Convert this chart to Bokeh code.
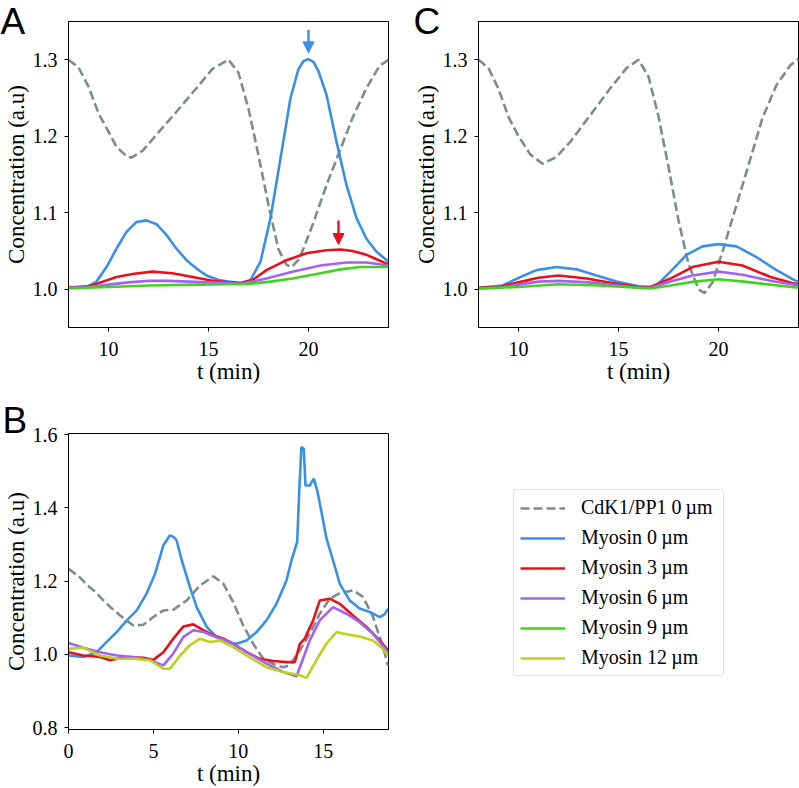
from bokeh.plotting import figure
from bokeh.layouts import column, row
from bokeh.models import (FixedTicker, PrintfTickFormatter, Range1d, Arrow,
                          NormalHead, Legend, LegendItem, ColumnDataSource)
from bokeh.embed import file_html
from bokeh.resources import INLINE

SERIF = "Liberation Serif"
SANS = "Liberation Sans"

C_GRAY = "#7f8c8d"
C_BLUE = "#3a8fe8"
C_RED = "#e8111a"
C_PURPLE = "#a264f0"
C_GREEN = "#40d420"
C_YELLOW = "#bcd21a"
LW = 2.6
DASH = "9 4"

# ---------------- Panel A (model, x = t in min) ----------------
a_t_gray = [8.0, 8.5, 9.0, 9.5, 10.0, 10.4, 10.9, 11.15, 11.7, 12.4, 13.4, 14.4, 15.2, 16.0, 16.5,
            17.0, 17.5, 18.0, 18.5, 18.9, 19.15, 19.55, 20.2, 20.9, 21.55, 22.2, 22.9, 23.55, 24.0]
a_gray = [1.300, 1.290, 1.265, 1.230, 1.206, 1.186, 1.174, 1.172, 1.181, 1.202, 1.232, 1.263, 1.288,
          1.300, 1.283, 1.236, 1.175, 1.110, 1.052, 1.032, 1.029, 1.040, 1.084, 1.136, 1.180, 1.224,
          1.263, 1.292, 1.300]

a_t_blue = [8.0, 8.5, 9.0, 9.4, 9.9, 10.4, 10.9, 11.4, 11.9, 12.4, 12.9, 13.4, 13.9, 14.4, 14.9,
            15.5, 16.0, 16.6, 17.1, 17.6, 18.1, 18.6, 19.1, 19.5, 19.75, 20.0, 20.25, 20.5, 20.9,
            21.4, 21.9, 22.4, 22.9, 23.4, 24.0]
a_blue = [1.003, 1.003, 1.004, 1.010, 1.029, 1.053, 1.075, 1.088, 1.090, 1.085, 1.071, 1.053, 1.038,
          1.027, 1.018, 1.012, 1.010, 1.008, 1.012, 1.036, 1.093, 1.171, 1.250, 1.288, 1.298, 1.301,
          1.297, 1.285, 1.254, 1.193, 1.136, 1.093, 1.066, 1.049, 1.036]

a_t_red = [8.0, 9.0, 9.4, 10.4, 11.2, 12.2, 13.2, 14.2, 15.2, 16.0, 16.6, 17.2, 17.9, 18.9, 19.9,
           20.9, 21.6, 22.2, 22.9, 23.6, 24.0]
a_red = [1.002, 1.004, 1.007, 1.016, 1.020, 1.023, 1.021, 1.016, 1.011, 1.009, 1.008, 1.012, 1.025,
         1.038, 1.047, 1.051, 1.052, 1.050, 1.045, 1.037, 1.032]

a_t_purple = [8.0, 9.0, 10.0, 11.0, 12.0, 13.0, 14.0, 15.0, 16.0, 16.6, 17.9, 19.2, 20.6, 21.9,
              22.9, 24.0]
a_purple = [1.002, 1.003, 1.006, 1.009, 1.011, 1.011, 1.010, 1.009, 1.008, 1.007, 1.014, 1.023,
            1.031, 1.035, 1.035, 1.031]

a_t_green = [8.0, 10.0, 12.0, 14.5, 16.0, 17.0, 18.0, 19.2, 20.4, 21.6, 22.6, 24.0]
a_green = [1.001, 1.003, 1.005, 1.006, 1.0066, 1.007, 1.0096, 1.014, 1.020, 1.026, 1.029, 1.029]

# arrows in panel A: x, start y, tip y
arrow_blue = {"x": [20.0], "y0": [1.339], "y1": [1.309]}
arrow_red = {"x": [21.5], "y0": [1.090], "y1": [1.0585]}

# ---------------- Panel C (model) ----------------
c_t_gray = [8.0, 8.5, 9.0, 9.5, 10.0, 10.6, 11.2, 11.9, 12.6, 13.6, 14.6, 15.4, 16.0, 16.5, 17.0,
            17.5, 18.0, 18.5, 19.0, 19.3, 19.7, 20.2, 20.9, 21.6, 22.2, 22.9, 23.6, 24.0]
c_gray = [1.300, 1.289, 1.262, 1.225, 1.200, 1.176, 1.164, 1.173, 1.193, 1.228, 1.263, 1.289, 1.300,
          1.278, 1.226, 1.160, 1.090, 1.033, 1.000, 0.995, 1.009, 1.049, 1.110, 1.171, 1.224, 1.267,
          1.293, 1.301]

c_t_blue = [8.0, 9.2, 10.1, 10.9, 11.9, 12.9, 13.9, 14.9, 16.0, 16.5, 16.9, 17.6, 18.4, 19.2, 20.0,
            20.9, 21.9, 22.9, 24.0]
c_blue = [1.002, 1.005, 1.016, 1.025, 1.029, 1.026, 1.018, 1.010, 1.004, 1.003, 1.005, 1.023, 1.045,
          1.056, 1.059, 1.056, 1.042, 1.025, 1.009]

c_t_red = [8.0, 9.0, 10.0, 11.0, 12.0, 13.4, 14.9, 16.0, 16.6, 17.6, 18.7, 20.0, 21.2, 22.6, 24.0]
c_red = [1.002, 1.003, 1.009, 1.015, 1.018, 1.014, 1.007, 1.003, 1.003, 1.014, 1.029, 1.036, 1.031,
         1.016, 1.006]

c_t_purple = [8.0, 9.0, 10.0, 11.0, 12.0, 13.5, 15.0, 16.0, 16.6, 17.6, 18.7, 20.0, 21.2, 22.6, 24.0]
c_purple = [1.001, 1.002, 1.006, 1.010, 1.011, 1.009, 1.005, 1.002, 1.002, 1.010, 1.018, 1.023,
            1.019, 1.011, 1.005]

c_t_green = [8.0, 10.0, 12.0, 14.0, 16.0, 16.6, 17.6, 18.7, 20.0, 21.4, 22.6, 24.0]
c_green = [1.001, 1.003, 1.0066, 1.005, 1.002, 1.001, 1.005, 1.0096, 1.013, 1.0096, 1.006, 1.002]

# ---------------- Panel B (experiment) ----------------
b_t_gray = [0.0, 0.66, 1.08, 1.6, 2.25, 3.04, 3.82, 4.41, 5.0, 5.59, 6.17, 6.96, 7.74, 8.53, 9.12,
            9.7, 10.29, 10.88, 11.47, 12.25, 12.65, 13.04, 13.63, 14.21, 14.8, 15.39, 15.98, 16.76,
            17.35, 17.94, 18.53, 18.82]
b_gray = [1.234, 1.211, 1.190, 1.170, 1.138, 1.106, 1.079, 1.081, 1.102, 1.120, 1.122, 1.147, 1.188,
          1.213, 1.193, 1.143, 1.079, 1.029, 0.988, 0.970, 0.965, 0.970, 1.011, 1.056, 1.111, 1.152,
          1.167, 1.175, 1.157, 1.102, 1.020, 0.970]

b_t_blue = [0.0, 0.88, 1.66, 2.25, 2.84, 3.43, 4.02, 4.6, 5.1, 5.59, 5.98, 6.2, 6.37, 6.67, 7.15,
            7.55, 8.14, 8.72, 9.31, 9.9, 10.49, 11.08, 11.66, 12.25, 12.84, 13.14, 13.47, 13.59,
            13.72, 13.86, 13.96, 14.21, 14.45, 14.65, 14.9, 15.2, 15.58, 15.98, 16.57, 17.15, 17.74,
            18.33, 18.63, 18.82]
b_blue = [0.997, 0.993, 1.006, 1.034, 1.061, 1.093, 1.120, 1.166, 1.220, 1.298, 1.325, 1.320, 1.311,
          1.257, 1.184, 1.129, 1.075, 1.047, 1.034, 1.029, 1.038, 1.061, 1.093, 1.138, 1.202, 1.257,
          1.307, 1.443, 1.566, 1.561, 1.461, 1.461, 1.480, 1.448, 1.389, 1.316, 1.257, 1.193, 1.147,
          1.125, 1.116, 1.102, 1.110, 1.125]

b_t_red = [0.0, 0.88, 1.86, 2.45, 3.43, 4.41, 5.0, 5.59, 6.17, 6.76, 7.35, 7.94, 8.53, 9.12, 9.7,
           10.49, 11.27, 12.06, 12.84, 13.33, 13.63, 13.92, 14.41, 14.8, 15.39, 15.98, 16.76, 17.55,
           18.33, 18.82]
b_red = [1.006, 0.997, 0.993, 0.984, 0.993, 0.991, 0.985, 1.006, 1.043, 1.076, 1.082, 1.066, 1.052,
         1.043, 1.029, 1.006, 0.988, 0.982, 0.979, 0.979, 1.029, 1.043, 1.093, 1.147, 1.152, 1.138,
         1.106, 1.075, 1.038, 1.011]

b_t_purple = [0.0, 0.88, 1.86, 2.84, 3.82, 4.8, 5.59, 6.17, 6.76, 7.35, 7.94, 8.72, 9.51, 10.49,
              11.66, 12.64, 13.43, 13.63, 14.21, 14.8, 15.58, 16.37, 17.15, 17.94, 18.82]
b_purple = [1.031, 1.018, 1.006, 0.997, 0.993, 0.984, 0.970, 1.002, 1.047, 1.066, 1.061, 1.047,
            1.034, 1.006, 0.975, 0.952, 0.940, 0.965, 1.038, 1.093, 1.129, 1.111, 1.088, 1.056,
            1.006]

b_t_yellow = [0.0, 0.88, 1.86, 2.84, 3.82, 4.8, 5.59, 5.98, 6.57, 7.15, 7.74, 8.33, 8.92, 9.51,
              10.49, 11.66, 12.64, 13.63, 14.02, 14.6, 15.19, 15.78, 16.37, 17.15, 17.94, 18.53,
              18.82]
b_yellow = [1.015, 1.018, 0.997, 0.988, 0.988, 0.984, 0.961, 0.961, 0.997, 1.025, 1.043, 1.034,
            1.038, 1.025, 0.997, 0.965, 0.952, 0.943, 0.936, 0.984, 1.029, 1.061, 1.055, 1.049,
            1.038, 1.015, 0.997]

# ---------------- axes / ticks / labels ----------------
ac_xticks = [10, 15, 20]
ac_yticks = [1.0, 1.1, 1.2, 1.3]
b_xticks = [0, 5, 10, 15]
b_yticks = [0.8, 1.0, 1.2, 1.4, 1.6]
x_label = "t (min)"
y_label = "Concentration (a.u)"
panel_letters = ["A", "B", "C"]

legend_labels = ["CdK1/PP1 0\u2009\u00b5m", "Myosin 0\u2009\u00b5m", "Myosin 3\u2009\u00b5m",
                 "Myosin 6\u2009\u00b5m", "Myosin 9\u2009\u00b5m", "Myosin 12\u2009\u00b5m"]
legend_colors = [C_GRAY, C_BLUE, C_RED, C_PURPLE, C_GREEN, C_YELLOW]
legend_dashes = [DASH, "solid", "solid", "solid", "solid", "solid"]


def make_fig(w, h, xr, yr, bl, br, bt, bb, xticks, yticks, letter, letter_offset, letter_standoff):
    p = figure(width=w, height=h, x_range=Range1d(*xr), y_range=Range1d(*yr),
               output_backend="svg", toolbar_location=None,
               min_border_left=bl, min_border_right=br, min_border_top=bt, min_border_bottom=bb)
    p.grid.visible = False
    p.outline_line_color = "black"
    p.outline_line_alpha = 1.0
    p.outline_line_width = 1
    p.background_fill_color = "white"
    p.border_fill_color = "white"
    for ax in (p.xaxis[0], p.yaxis[0]):
        ax.major_tick_in = 0
        ax.major_tick_out = 4
        ax.minor_tick_in = 0
        ax.minor_tick_out = 0
        ax.axis_line_color = "black"
        ax.major_tick_line_color = "black"
        ax.major_label_text_font = SERIF
        ax.major_label_text_font_size = "20px"
        ax.major_label_text_color = "black"
        ax.axis_label_text_font = SERIF
        ax.axis_label_text_font_size = "23px"
        ax.axis_label_text_font_style = "normal"
        ax.axis_label_text_color = "black"
    p.xaxis.ticker = FixedTicker(ticks=xticks)
    p.yaxis.ticker = FixedTicker(ticks=yticks)
    p.yaxis.formatter = PrintfTickFormatter(format="%.1f")
    p.xaxis.major_label_standoff = 10
    p.yaxis.major_label_standoff = 7
    p.xaxis.axis_label_standoff = 0
    p.yaxis.axis_label_standoff = 1
    p.xaxis.axis_label = x_label
    p.yaxis.axis_label = y_label
    # panel letter as the plot title, pulled to the top-left corner
    p.title.text = letter
    p.title.text_font = SANS
    p.title.text_font_size = "37px"
    p.title.text_font_style = "normal"
    p.title.text_color = "black"
    p.title.align = "left"
    p.title.offset = letter_offset
    p.title.standoff = letter_standoff
    return p


# Panel A
pA = make_fig(400, 400, (8, 24), (0.95, 1.35), 68, 12, 21, 73, ac_xticks, ac_yticks,
              panel_letters[0], -68, -40)
pA.line(a_t_gray, a_gray, line_color=C_GRAY, line_width=LW, line_dash=DASH)
pA.line(a_t_blue, a_blue, line_color=C_BLUE, line_width=LW)
pA.line(a_t_red, a_red, line_color=C_RED, line_width=LW)
pA.line(a_t_purple, a_purple, line_color=C_PURPLE, line_width=LW)
pA.line(a_t_green, a_green, line_color=C_GREEN, line_width=LW)
for data, col in ((arrow_blue, C_BLUE), (arrow_red, C_RED)):
    src = ColumnDataSource(data)
    pA.add_layout(Arrow(source=src, x_start="x", y_start="y0", x_end="x", y_end="y1",
                        line_color=col, line_width=2.4,
                        end=NormalHead(size=11, fill_color=col, line_color=col)))

# Panel C
pC = make_fig(399, 400, (8, 24), (0.95, 1.35), 78, 1, 21, 73, ac_xticks, ac_yticks,
              panel_letters[2], -65, -40)
pC.line(c_t_gray, c_gray, line_color=C_GRAY, line_width=LW, line_dash=DASH)
pC.line(c_t_blue, c_blue, line_color=C_BLUE, line_width=LW)
pC.line(c_t_red, c_red, line_color=C_RED, line_width=LW)
pC.line(c_t_purple, c_purple, line_color=C_PURPLE, line_width=LW)
pC.line(c_t_green, c_green, line_color=C_GREEN, line_width=LW)

# Panel B
pB = make_fig(400, 388, (0, 18.85), (0.795, 1.603), 68, 12, 33, 59, b_xticks, b_yticks,
              panel_letters[1], -66, -14)
pB.line(b_t_gray, b_gray, line_color=C_GRAY, line_width=LW, line_dash=DASH)
pB.line(b_t_blue, b_blue, line_color=C_BLUE, line_width=LW)
pB.line(b_t_red, b_red, line_color=C_RED, line_width=LW)
pB.line(b_t_purple, b_purple, line_color=C_PURPLE, line_width=LW)
pB.line(b_t_yellow, b_yellow, line_color=C_YELLOW, line_width=LW)

# Legend panel (its sample lines lie outside the visible x range)
pL = figure(width=399, height=388, output_backend="svg", toolbar_location=None,
            x_axis_type=None, y_axis_type=None, x_range=Range1d(100, 101), y_range=Range1d(0, 1),
            min_border_left=0, min_border_right=0, min_border_top=33, min_border_bottom=59)
pL.grid.visible = False
pL.outline_line_color = None
leg_sources = [(b_t_gray, b_gray), (b_t_blue, b_blue), (b_t_red, b_red), (b_t_purple, b_purple),
               (a_t_green, a_green), (b_t_yellow, b_yellow)]
items = []
for lab, col, dsh, (xs, ys) in zip(legend_labels, legend_colors, legend_dashes, leg_sources):
    r = pL.line(xs, ys, line_color=col, line_width=LW, line_dash=dsh)
    items.append(LegendItem(label=lab, renderers=[r]))
leg = Legend(items=items, location=(113, 53), orientation="vertical",
             label_text_font=SERIF, label_text_font_size="20px", label_text_color="black",
             glyph_width=45, glyph_height=20, label_height=20, label_width=136,
             label_standoff=16, padding=6, spacing=7, margin=0,
             border_line_color="#cccccc", border_line_width=1,
             background_fill_color="white", background_fill_alpha=1.0)
if "border_radius" in Legend.properties():
    leg.border_radius = 4
pL.add_layout(leg)

root = column(row(pA, pC), row(pB, pL))

open("out.html", "w").write(file_html(root, INLINE))
